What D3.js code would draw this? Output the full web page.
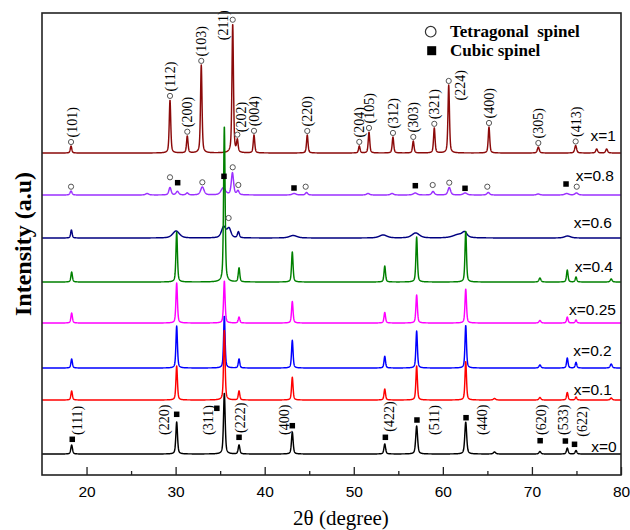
<!DOCTYPE html>
<html>
<head>
<meta charset="utf-8">
<script src="https://cdn.jsdelivr.net/npm/d3@7"></script>
<style>
  body { margin: 0; background: #fff; }
  svg { display: block; }
</style>
</head>
<body>
<svg id="chart" width="630" height="530"></svg>
<script>
// ---------------- data ----------------
// samples, top to bottom
const sampleNames = ["x=1", "x=0.8", "x=0.6", "x=0.4", "x=0.25", "x=0.2", "x=0.1", "x=0"];
const sampleColors = ["#8b0a0a", "#9b30ff", "#000080", "#008000", "#ff00ff", "#0000ff", "#ff0000", "#000000"];
// vertical stacking offset of each pattern (a.u.)
const stackOffsets = [322, 280, 237, 193, 152, 107, 75, 21];

// reflections per sample: [2θ (deg), intensity (a.u.), FWHM (deg)]
const peaksX100 = [
  [18.26, 7, 0.2], [29.37, 53, 0.2], [31.31, 17, 0.2], [32.88, 88, 0.2], [36.41, 129, 0.2],
  [36.93, 12, 0.2], [38.80, 18, 0.2], [44.78, 18, 0.2], [50.62, 7, 0.2], [51.71, 21, 0.2],
  [54.40, 16, 0.2], [56.68, 12, 0.2], [59.04, 25, 0.2], [60.66, 68, 0.2], [65.18, 26, 0.2],
  [70.72, 6, 0.25], [74.91, 7.5, 0.25], [77.27, 4, 0.25], [78.39, 4, 0.25]
];
const peaksX080 = [
  [18.26, 4, 0.25], [26.8, 1.5, 0.4], [29.37, 7.5, 0.3], [30.2, 3.5, 0.35], [31.3, 2, 0.3],
  [33.0, 8, 0.45], [35.35, 7, 0.6], [36.38, 22, 0.3], [37.0, 4, 0.3], [43.3, 1.5, 0.5],
  [44.7, 2.5, 0.3], [51.6, 1.5, 0.4], [54.3, 1.5, 0.4], [56.9, 2, 0.5], [58.9, 3.5, 0.35],
  [60.72, 7.5, 0.35], [62.5, 2, 0.5], [65.1, 2.5, 0.35], [70.7, 1, 0.4], [73.9, 1.5, 0.5],
  [75.0, 2, 0.4]
];
const peaksX060 = [
  [18.3, 8, 0.2], [30.05, 7, 0.9], [35.4, 11, 0.6], [36.0, 9, 0.5], [37.05, 6, 0.25],
  [43.2, 2.5, 1.0], [53.3, 3, 1.0], [56.95, 5, 1.0], [61.8, 3.5, 1.5], [62.45, 4.5, 0.6],
  [74.0, 2, 0.8]
];
const peaksX040 = [
  [18.33, 10, 0.2], [30.12, 50, 0.2], [35.47, 156, 0.2], [37.12, 14, 0.2], [43.1, 30, 0.2],
  [53.48, 16, 0.2], [57.06, 45, 0.2], [62.57, 51, 0.2], [70.9, 4, 0.25], [73.97, 12, 0.2],
  [74.95, 5, 0.2], [78.9, 3, 0.25]
];
const peaksX025 = [
  [18.33, 10, 0.2], [30.12, 40, 0.2], [35.47, 42, 0.2], [37.12, 6, 0.2], [43.1, 21.6, 0.2],
  [53.48, 10.6, 0.2], [57.06, 28, 0.2], [62.57, 34, 0.2], [70.9, 2.5, 0.25], [73.97, 6, 0.2],
  [74.95, 3, 0.2]
];
const peaksX020 = [
  [18.33, 9, 0.2], [30.12, 42, 0.2], [35.47, 52, 0.2], [37.12, 9, 0.2], [43.1, 27.7, 0.2],
  [53.48, 11.7, 0.2], [57.06, 37, 0.2], [62.57, 42.7, 0.2], [70.9, 3, 0.25], [73.97, 10, 0.2],
  [74.95, 5.7, 0.2], [78.9, 4, 0.25]
];
const peaksX010 = [
  [18.33, 9, 0.2], [30.12, 34, 0.2], [35.47, 70, 0.2], [37.12, 9, 0.2], [43.1, 22.7, 0.2],
  [53.48, 11, 0.2], [57.06, 34, 0.2], [62.57, 38.6, 0.2], [65.8, 1.5, 0.3], [70.9, 2.5, 0.25],
  [73.97, 7.6, 0.2], [74.95, 3, 0.2], [78.9, 2, 0.25]
];
const peaksX000 = [
  [18.33, 9, 0.22], [30.12, 32, 0.22], [35.47, 61, 0.22], [37.12, 9, 0.22], [43.1, 22, 0.22],
  [53.48, 10, 0.22], [57.06, 28, 0.25], [62.57, 32, 0.25], [65.8, 2, 0.3], [70.9, 2.5, 0.25],
  [73.97, 6, 0.22], [74.95, 3.5, 0.22]
];
const samplePeaks = [peaksX100, peaksX080, peaksX060, peaksX040, peaksX025, peaksX020, peaksX010, peaksX000];

// tetragonal spinel indexing (x=1)
const tetraHkl   = ["(101)", "(112)", "(200)", "(103)", "(211)", "(202)", "(004)", "(220)", "(204)",
                    "(105)", "(312)", "(303)", "(321)", "(224)", "(400)", "(305)", "(413)"];
const tetraTheta = [18.26, 29.37, 31.31, 32.88, 36.41, 36.93, 38.80, 44.78, 50.62,
                    51.71, 54.40, 56.68, 59.04, 60.66, 65.18, 70.72, 74.91];

// cubic spinel indexing (x=0): hkl, 2θ, marker height above the pattern baseline
const cubicHkl    = ["(111)", "(220)", "(311)", "(222)", "(400)", "(422)", "(511)", "(440)", "(620)", "(533)", "(622)"];
const cubicTheta  = [18.33, 30.12, 35.47, 37.12, 43.1, 53.48, 57.06, 62.57, 70.9, 73.97, 74.95];
const cubicMarkH  = [14.7, 39.7, 45.7, 16.7, 28.3, 16.7, 34, 36.3, 13.3, 13, 9.7];

// phase markers on x=0.8: 2θ, height above baseline
const mixTetraTheta = [18.26, 29.37, 33.0, 36.41, 37.04, 44.6, 58.86, 60.72, 64.99, 75.03];
const mixTetraH     = [8.3, 17.7, 12.7, 27.7, 10, 8.3, 10, 12.3, 8.3, 8.3];
const mixCubicTheta = [30.23, 35.43, 43.29, 56.91, 62.49, 73.83];
const mixCubicH     = [12.3, 18.7, 7, 9.3, 6.7, 11];
// tetragonal marker on x=0.6
const x06TetraTheta = [35.95];
const x06TetraH     = [20];

const xTicksMajor = [20, 30, 40, 50, 60, 70, 80];
const xTicksMinor = [25, 35, 45, 55, 65, 75];

// ---------------- layout ----------------
const W = 630, H = 530;
const margin = { left: 42, right: 9, top: 13, bottom: 55 };
const plotL = margin.left, plotR = W - margin.right, plotT = margin.top, plotB = H - margin.bottom;

const serif = "'Liberation Serif', 'Times New Roman', serif";
const sans = "'Liberation Sans', Arial, sans-serif";

// series-label nudges [dx, dy] (px)
const seriesLabelNudge = [[2, -11.6], [0, -14.3], [-2, -10], [-1, -10], [2, -8.3], [-2.3, -12], [-2, -4.6], [2.7, -2.3]];
// hkl label nudges for tetragonal reflections: [dx, extra drop] (px)
const tetraLabelNudge = { "(211)": [-10, 25], "(224)": [11.5, 24], "(202)": [3.5, 2], "(101)": [1.5, 0] };
// cubic label placement: [label dx, label bottom above baseline, marker dx] (px)
const cubicLabelPos = {
  "(111)": [5.3, 19, 0.6], "(220)": [-12.5, 19, 0], "(311)": [-16.7, 19, -7.5], "(222)": [1.1, 21, 0],
  "(400)": [-8.3, 19, 0], "(422)": [4.6, 22.3, 0.6], "(511)": [17, 19, 0.3], "(440)": [16.5, 19, 0.3],
  "(620)": [0.9, 19, 0.2], "(533)": [-4.6, 19, -1.9], "(622)": [6.5, 17.3, -1.5]
};

// ---------------- scales ----------------
const x = d3.scaleLinear().domain([15, 80]).range([plotL, plotR]);
const y = d3.scaleLinear().domain([0, plotB - plotT]).range([plotB, plotT]);

// pseudo-Voigt line profile summed over the reflections of one sample
function profile(peaks, t) {
  let s = 0;
  for (const [c, h, w] of peaks) {
    const u = (t - c) / w;
    const L = 1 / (1 + 4 * u * u);
    const G = Math.exp(-4 * Math.LN2 * u * u);
    s += h * (0.5 * L + 0.5 * G);
  }
  return s;
}
const grid = d3.range(15, 80.0001, 0.02);

const svg = d3.select("#chart");

// patterns, top sample first so lower patterns sit above
const line = d3.line().x(d => x(d[0])).y(d => y(d[1]));
const gTraces = svg.append("g");
samplePeaks.forEach((peaks, i) => {
  const pts = grid.map(t => [t, stackOffsets[i] + profile(peaks, t)]);
  gTraces.append("path")
    .attr("d", line(pts))
    .attr("fill", "none")
    .attr("stroke", sampleColors[i])
    .attr("stroke-width", 1.45)
    .attr("stroke-linejoin", "round");
});

// series labels
const gLab = svg.append("g");
sampleNames.forEach((name, i) => {
  gLab.append("text")
    .attr("x", 614 + seriesLabelNudge[i][0])
    .attr("y", y(stackOffsets[i]) + seriesLabelNudge[i][1])
    .attr("text-anchor", "end")
    .attr("font-family", sans)
    .attr("font-size", 15.5)
    .attr("fill", "#000")
    .text(name);
});

// marker helpers
const gMarks = svg.append("g");
function openCircle(cx, cy, r = 2.6) {
  gMarks.append("circle").attr("cx", cx).attr("cy", cy).attr("r", r)
    .attr("fill", "#fff").attr("stroke", "#555").attr("stroke-width", 1);
}
function filledSquare(cx, cy, s = 5.5) {
  gMarks.append("rect").attr("x", cx - s / 2).attr("y", cy - s / 2).attr("width", s).attr("height", s)
    .attr("fill", "#000");
}
function hklLabel(cx, bottomY, txt) {
  gMarks.append("text")
    .attr("transform", `translate(${cx},${bottomY}) rotate(-90)`)
    .attr("dy", "0.35em")
    .attr("text-anchor", "start")
    .attr("font-family", serif)
    .attr("font-size", 14)
    .attr("fill", "#000")
    .text(txt);
}

// tetragonal reflections on x=1
tetraHkl.forEach((hkl, k) => {
  const t = tetraTheta[k];
  const top = stackOffsets[0] + profile(peaksX100, t);
  const cx = x(t), cy = y(top + 4);
  openCircle(cx, cy);
  const nudge = tetraLabelNudge[hkl] || [0, 0];
  hklLabel(cx + nudge[0], cy - 4.5 + nudge[1], hkl);
});

// cubic reflections on x=0
cubicHkl.forEach((hkl, k) => {
  const t = cubicTheta[k];
  const p = cubicLabelPos[hkl];
  filledSquare(x(t) + p[2], y(stackOffsets[7] + cubicMarkH[k]));
  hklLabel(x(t) + p[0], y(stackOffsets[7] + p[1]), hkl);
});

// phase markers on x=0.8 and x=0.6
mixTetraTheta.forEach((t, k) => openCircle(x(t), y(stackOffsets[1] + mixTetraH[k])));
mixCubicTheta.forEach((t, k) => filledSquare(x(t), y(stackOffsets[1] + mixCubicH[k])));
x06TetraTheta.forEach((t, k) => openCircle(x(t), y(stackOffsets[2] + x06TetraH[k])));

// legend
const gLeg = svg.append("g");
gLeg.append("circle").attr("cx", 430.7).attr("cy", 31.7).attr("r", 5.3)
  .attr("fill", "#fff").attr("stroke", "#333").attr("stroke-width", 1.2);
gLeg.append("text").attr("x", 450).attr("y", 37).attr("font-family", serif)
  .attr("font-weight", "bold").attr("font-size", 17).text("Tetragonal\u00a0\u00a0spinel");
gLeg.append("rect").attr("x", 427.2).attr("y", 46.2).attr("width", 9).attr("height", 9).attr("fill", "#000");
gLeg.append("text").attr("x", 450).attr("y", 55.5).attr("font-family", serif)
  .attr("font-weight", "bold").attr("font-size", 17).text("Cubic spinel");

// axes
const axMajor = d3.axisBottom(x).tickValues(xTicksMajor).tickSize(-8).tickPadding(11).tickFormat(d3.format("d"));
const gx = svg.append("g").attr("transform", `translate(0,${plotB})`).call(axMajor);
gx.select(".domain").remove();
gx.selectAll(".tick line").attr("stroke", "#222").attr("stroke-width", 1.3);
gx.selectAll(".tick text").attr("font-family", sans).attr("font-size", 15.5).attr("fill", "#000");

const axMinor = d3.axisBottom(x).tickValues(xTicksMinor).tickSize(-4).tickFormat("");
const gxm = svg.append("g").attr("transform", `translate(0,${plotB})`).call(axMinor);
gxm.select(".domain").remove();
gxm.selectAll(".tick line").attr("stroke", "#222").attr("stroke-width", 1.3);

// frame
svg.append("rect")
  .attr("x", plotL).attr("y", plotT)
  .attr("width", plotR - plotL).attr("height", plotB - plotT)
  .attr("fill", "none").attr("stroke", "#222").attr("stroke-width", 1.6);

// axis titles
svg.append("text")
  .attr("x", 341).attr("y", 525)
  .attr("text-anchor", "middle")
  .attr("font-family", serif)
  .attr("font-size", 21)
  .attr("fill", "#000")
  .text("2θ (degree)");

svg.append("text")
  .attr("transform", `translate(31,${(plotT + plotB) / 2}) rotate(-90)`)
  .attr("text-anchor", "middle")
  .attr("font-family", serif)
  .attr("font-weight", "bold")
  .attr("font-size", 24)
  .attr("fill", "#000")
  .text("Intensity (a.u)");
</script>
</body>
</html>
